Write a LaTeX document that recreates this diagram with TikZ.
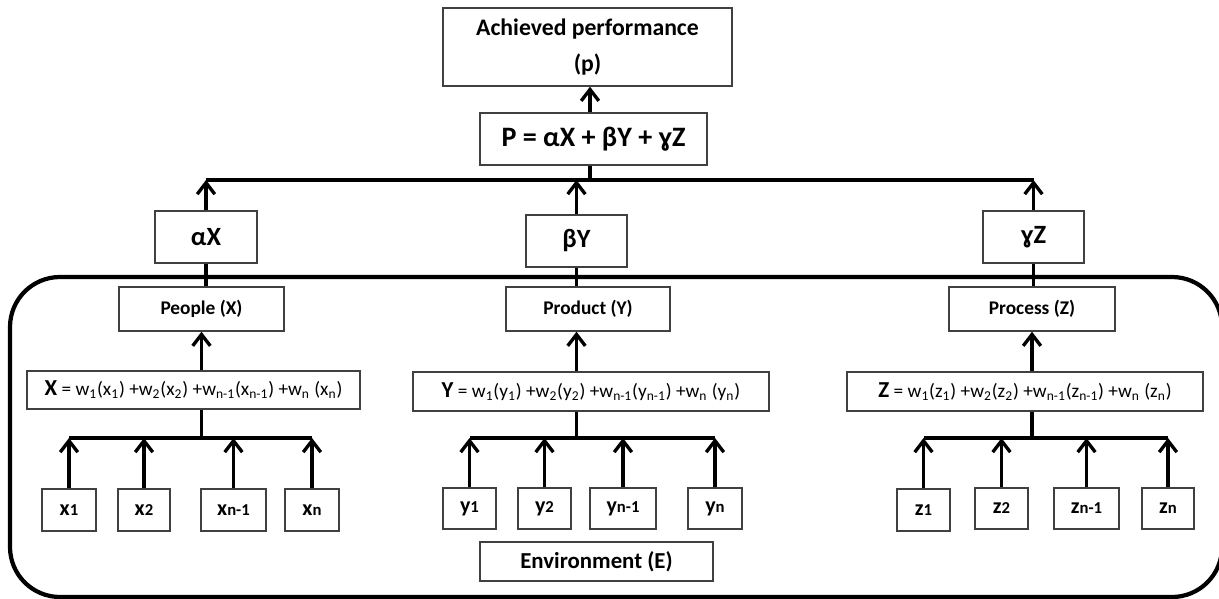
\documentclass[tikz,border=0pt]{standalone}
\usepackage{fontspec}
\setmainfont{Carlito}
\usetikzlibrary{positioning, arrows.meta}
\newcommand{\lo}[1]{\textsubscript{#1}}
\newcommand{\sm}[1]{{\fontsize{9.5}{9.5}\selectfont #1}}

\begin{document}
\begin{tikzpicture}[x=0.02cm, y=-0.02cm,
    box/.style 2 args={draw=black!75, line width=0.8pt, inner sep=0pt, align=center,
      minimum width=#1*0.02cm, minimum height=#2*0.02cm, font=\bfseries},
    eq/.style={font=\fontsize{11}{13}\selectfont},
    var/.style={font=\bfseries\fontsize{12.5}{12.5}\selectfont},
    link/.style={line width=1.9pt},
    up/.style={link, -{Straight Barb[length=6.5pt,width=10pt]}}]
  \useasboundingbox (0,0) rectangle (1219,598);
  % outer frame
  \draw[line width=2.4pt, rounded corners=50*0.02cm] (10,277) rectangle (1222,597);

  \node[box={289}{78}, font=\bfseries\fontsize{13.5}{20}\selectfont] (perf) at (587.5,47) {Achieved performance\\(p)};
  \node[box={227}{52}, font=\bfseries\fontsize{16}{16}\selectfont] (pform) at (593.5,139) {P = αX + βY + ɣZ};

  \node[box={102}{52}, font=\bfseries\fontsize{15}{15}\selectfont] (ax) at (206,237) {αX};
  \node[box={101}{52}, font=\bfseries\fontsize{15}{15}\selectfont] (by) at (576.5,241) {βY};
  \node[box={101}{52}, font=\bfseries\fontsize{15}{15}\selectfont] (gz) at (1033.5,237) {ɣZ};

  \node[box={165}{44}, font=\bfseries\fontsize{11}{11}\selectfont] (people) at (201.5,309) {People (X)};
  \node[box={164}{44}, font=\bfseries\fontsize{11}{11}\selectfont] (product) at (588,309) {Product (Y)};
  \node[box={166}{44}, font=\bfseries\fontsize{11}{11}\selectfont] (process) at (1032,309) {Process (Z)};

  \node[box={333}{38}, eq] (xeq) at (193.5,390) {{\bfseries\fontsize{13}{13}\selectfont X} = w\lo{1}(x\lo{1}) +w\lo{2}(x\lo{2}) +w\lo{n-1}(x\lo{n-1}) +w\lo{n} (x\lo{n})};
  \node[box={356}{39}, eq] (yeq) at (591,391.5) {{\bfseries\fontsize{13}{13}\selectfont Y} = w\lo{1}(y\lo{1}) +w\lo{2}(y\lo{2}) +w\lo{n-1}(y\lo{n-1}) +w\lo{n} (y\lo{n})};
  \node[box={356}{39}, eq] (zeq) at (1025,391.5) {{\bfseries\fontsize{13}{13}\selectfont Z} = w\lo{1}(z\lo{1}) +w\lo{2}(z\lo{2}) +w\lo{n-1}(z\lo{n-1}) +w\lo{n} (z\lo{n})};

  \node[box={54}{42}, var] (x1) at (69,510) {x\sm{1}};
  \node[box={52}{42}, var] (x2) at (144,510) {x\sm{2}};
  \node[box={65}{42}, var] (xn1) at (233.5,510) {x\sm{n-1}};
  \node[box={54}{42}, var] (xn) at (312,510) {x\sm{n}};

  \node[box={53}{41}, var] (y1) at (469.5,508.5) {y\sm{1}};
  \node[box={53}{41}, var] (y2) at (544.5,508.5) {y\sm{2}};
  \node[box={66}{41}, var] (yn1) at (623,508.5) {y\sm{n-1}};
  \node[box={54}{41}, var] (yn) at (715,508.5) {y\sm{n}};

  \node[box={53}{42}, var] (z1) at (923.5,510) {z\sm{1}};
  \node[box={53}{41}, var] (z2) at (1001.5,508.5) {z\sm{2}};
  \node[box={65}{41}, var] (zn1) at (1086.5,508.5) {z\sm{n-1}};
  \node[box={52}{41}, var] (zn) at (1168,508.5) {z\sm{n}};

  \node[box={233}{39}, font=\bfseries\fontsize{13}{13}\selectfont] (env) at (596.5,561.5) {Environment (E)};

  % bars the arrows run into
  \coordinate (tb) at (590,180);
  \coordinate (xb) at (200,438);
  \coordinate (yb) at (581,438);
  \coordinate (zb) at (1037,438);

  \draw[up] (tb |- pform.north) -- (tb |- perf.south);
  \draw[link] (tb |- pform.south) -- (tb)
    (ax.north |- tb) -- (gz.north |- tb);
  \draw[up] (ax) edge (ax |- tb)
    (by) edge (by |- tb)
    (gz) edge (gz |- tb);
  \draw[link] (ax.south) -- (ax.south |- people.north)
    (by.south) -- (by.south |- product.north)
    (gz.south) -- (gz.south |- process.north);
  \draw[up] (people |- xeq.north) -- (people.south);
  \draw[up] (by |- yeq.north) -- (by |- product.south);
  \draw[up] (process |- zeq.north) -- (process.south);

  \draw[link] (people |- xeq.south) -- (people |- xb)
    (x1 |- xb) -- (xn |- xb);
  \draw[link] (by |- yeq.south) -- (by |- yb)
    (y1 |- yb) -- (yn |- yb);
  \draw[link] (process |- zeq.south) -- (process |- zb)
    (z1 |- zb) -- (zn |- zb);
  \draw[up] (x1) edge (x1 |- xb)
    (x2) edge (x2 |- xb)
    (xn1) edge (xn1 |- xb)
    (xn) edge (xn |- xb);
  \draw[up] (y1) edge (y1 |- yb)
    (y2) edge (y2 |- yb)
    (yn1) edge (yn1 |- yb)
    (yn) edge (yn |- yb);
  \draw[up] (z1) edge (z1 |- zb)
    (z2) edge (z2 |- zb)
    (zn1) edge (zn1 |- zb)
    (zn) edge (zn |- zb);
\end{tikzpicture}
\end{document}
